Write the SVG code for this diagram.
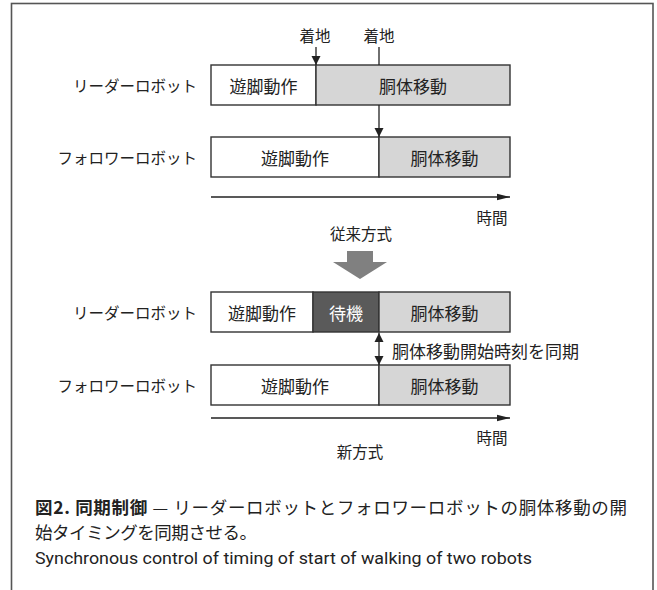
<svg xmlns="http://www.w3.org/2000/svg" width="657" height="590" viewBox="0 0 657 590">
<style>
.lbl{font-family:"Noto Sans CJK JP","Noto Sans",sans-serif;font-size:15.5px;fill:#222;text-anchor:end;dominant-baseline:central}
.bx{font-family:"Noto Sans CJK JP","Noto Sans",sans-serif;font-size:17px;fill:#222;text-anchor:middle;dominant-baseline:central}
.sm{font-family:"Noto Sans CJK JP","Noto Sans",sans-serif;font-size:15.5px;fill:#222;text-anchor:middle;dominant-baseline:central}
.w{fill:#fff;stroke:#333;stroke-width:1.4}
.g{fill:#d6d6d6;stroke:#333;stroke-width:1.4}
.d{fill:#5a5a5a;stroke:#333;stroke-width:1.4}
.ln{stroke:#222;stroke-width:1.3;fill:none}
.cap{font-family:"Noto Sans CJK JP",sans-serif;font-size:17.5px;fill:#222}
</style>
<defs>
<marker id="ah" markerUnits="userSpaceOnUse" markerWidth="10" markerHeight="10" refX="9" refY="5" orient="auto-start-reverse">
<path d="M0,0.5 L9,5 L0,9.5 Z" fill="#222"/>
</marker>
<marker id="th" markerUnits="userSpaceOnUse" markerWidth="14" markerHeight="8" refX="13" refY="4" orient="auto">
<path d="M0,0.8 L13,4 L0,7.2 Z" fill="#222"/>
</marker>
</defs>
<rect x="11.5" y="3.5" width="641.5" height="600" fill="#fff" stroke="#555" stroke-width="1.6"/>

<g id="conventional">
<g id="c-labels">
<text class="sm" x="315" y="35">着地</text>
<text class="sm" x="379" y="35">着地</text>
<text class="lbl" x="197" y="85">リーダーロボット</text>
<text class="lbl" x="197" y="157">フォロワーロボット</text>
</g>
<g id="c-leader">
<rect class="w" x="211" y="65" width="105" height="40"/>
<rect class="g" x="316" y="65" width="194" height="40"/>
<text class="bx" x="263.5" y="85">遊脚動作</text>
<text class="bx" x="413" y="85">胴体移動</text>
</g>
<g id="c-follower">
<rect class="w" x="211" y="137" width="168" height="40"/>
<rect class="g" x="379" y="137" width="131" height="40"/>
<text class="bx" x="295" y="157">遊脚動作</text>
<text class="bx" x="444.5" y="157">胴体移動</text>
</g>
<text class="sm" x="492" y="217">時間</text>
<text class="sm" x="361" y="233">従来方式</text>
</g>

<g id="transition">
<path d="M347,251 H373 V262 H387 L360,279 L333,262 H347 Z" fill="#808080"/>
</g>

<g id="new">
<g id="n-labels">
<text class="lbl" x="197" y="312">リーダーロボット</text>
<text class="lbl" x="197" y="385">フォロワーロボット</text>
</g>
<g id="n-leader">
<rect class="w" x="211" y="292" width="102" height="40"/>
<rect class="d" x="313" y="292" width="66" height="40"/>
<rect class="g" x="379" y="292" width="131" height="40"/>
<text class="bx" x="262" y="312">遊脚動作</text>
<text class="bx" x="346" y="312" style="fill:#fff">待機</text>
<text class="bx" x="444.5" y="312">胴体移動</text>
</g>
<g id="n-follower">
<rect class="w" x="211" y="365" width="168" height="40"/>
<rect class="g" x="379" y="365" width="131" height="40"/>
<text class="bx" x="295" y="385">遊脚動作</text>
<text class="bx" x="444.5" y="385">胴体移動</text>
</g>
<text class="bx" x="392" y="350" style="text-anchor:start">胴体移動開始時刻を同期</text>
<text class="sm" x="492" y="437">時間</text>
<text class="sm" x="360" y="451">新方式</text>
</g>

<g id="connectors">
<line class="ln" x1="316" y1="47" x2="316" y2="65" marker-end="url(#ah)"/>
<line class="ln" x1="379" y1="47" x2="379" y2="65"/>
<line class="ln" x1="379" y1="105" x2="379" y2="137" marker-end="url(#ah)"/>
<line class="ln" x1="211" y1="197" x2="510" y2="197" marker-end="url(#th)"/>
<line class="ln" x1="379" y1="333" x2="379" y2="365" marker-start="url(#ah)" marker-end="url(#ah)"/>
<line class="ln" x1="211" y1="418" x2="510" y2="418" marker-end="url(#th)"/>
</g>

<g id="caption">
<text class="cap" x="35" y="514" textLength="592" lengthAdjust="spacing"><tspan font-weight="bold">図2.  同期制御</tspan> — リーダーロボットとフォロワーロボットの胴体移動の開</text>
<text class="cap" x="35" y="539" textLength="222" lengthAdjust="spacing">始タイミングを同期させる。</text>
<text x="35" y="564" font-family="Roboto,'Liberation Sans',sans-serif" font-size="16.5" fill="#222" textLength="497" lengthAdjust="spacingAndGlyphs">Synchronous control of timing of start of walking of two robots</text>
</g>
</svg>
